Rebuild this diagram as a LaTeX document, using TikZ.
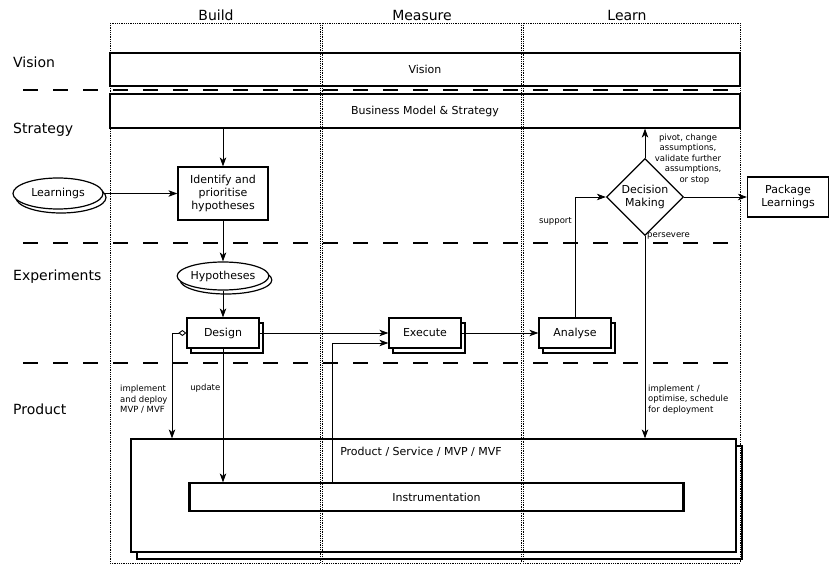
\documentclass[tikz,border=0pt]{standalone}
\usepackage{fontspec}
\setmainfont{DejaVu Sans}
\usetikzlibrary{arrows.meta,shadows,shapes.geometric}
\begin{document}
\begin{tikzpicture}[x=1pt,y=-1pt,
  box/.style={draw,line width=1.2pt,fill=white,font=\fontsize{11}{13}\selectfont,align=center,inner sep=0pt},
  wide/.style={draw,line width=1.2pt,font=\fontsize{11}{13}\selectfont,inner sep=0pt},
  stackbox/.style={box,copy shadow={shadow xshift=4pt,shadow yshift=-5pt}},
  stackell/.style={box,ellipse,copy shadow={shadow xshift=3pt,shadow yshift=-4pt}},
  arr/.style={-{Stealth[length=9pt,width=6.5pt,inset=2.5pt]},line width=0.9pt},
  lane/.style={line width=0.6pt,dash pattern=on 0.8pt off 1pt},
  sep/.style={line width=2.5pt,dash pattern=on 15pt off 15pt},
  rowlbl/.style={font=\fontsize{14}{16}\selectfont,anchor=west,inner sep=0pt},
  coltitle/.style={font=\fontsize{14}{16}\selectfont,inner sep=0pt},
  small/.style={font=\fontsize{8.5}{10.5}\selectfont,inner sep=0pt}
]
\useasboundingbox (0,0) rectangle (835,564);

% column titles and row labels
\node[coltitle] (tbuild) at (216,15) {Build};
\node[coltitle] (tmeasure) at (422,15) {Measure};
\node[coltitle] (tlearn) at (627,15) {Learn};
\node[rowlbl] (rvision) at (13,62) {Vision};
\node[rowlbl] (rstrategy) at (13,130) {Strategy};
\node[rowlbl] (rexp) at (13,277) {Experiments};
\node[rowlbl] (rprod) at (13,409) {Product};

% separators
\draw[sep] (23,90) -- (740,90);
\draw[sep] (23,243) -- (740,243);
\draw[sep] (23,363) -- (740,363);

% product and instrumentation
\node[box,minimum width=605pt,minimum height=113pt,copy shadow={shadow xshift=6pt,shadow yshift=-7pt}] (product) at (433.5,495.5) {};
\node[font=\fontsize{11}{13}\selectfont,inner sep=0pt] (prodlbl) at (421,452) {Product / Service / MVP / MVF};
\node[wide,minimum width=495pt,minimum height=28pt] (instr) at (436.5,497) {Instrumentation};
\draw[line width=2.5pt] ([xshift=1pt]instr.north west) -- ([xshift=1pt]instr.south west);
\draw[line width=2.5pt] ([xshift=-1pt]instr.north east) -- ([xshift=-1pt]instr.south east);

% vision and strategy
\node[wide,minimum width=630pt,minimum height=33pt] (vision) at (425,69.5) {Vision};
\node[wide,minimum width=630pt,minimum height=34pt] (bm) at (425,111) {Business Model \& Strategy};

% nodes
\node[box,minimum width=90pt,minimum height=53pt] (identify) at (223,193.5) {Identify and\\prioritise\\hypotheses};
\node[stackell,minimum width=90pt,minimum height=31pt] (learnings) at (58,193.5) {Learnings};
\node[stackell,minimum width=90pt,minimum height=28pt] (hyp) at (223,276) {Hypotheses};
\node[stackbox,minimum width=72pt,minimum height=30pt] (design) at (223,333) {Design};
\node[stackbox,minimum width=72pt,minimum height=30pt] (execute) at (425,333) {Execute};
\node[stackbox,minimum width=72pt,minimum height=30pt] (analyse) at (575,333) {Analyse};
\node[box,diamond,minimum width=77pt,minimum height=77pt] (decision) at (645,197) {Decision\\Making};
\node[box,minimum width=81pt,minimum height=40pt] (package) at (788,197) {Package\\Learnings};

\coordinate (xa) at (332,0);
\coordinate (xb) at (172,0);

% connectors
\draw[arr] (identify |- bm.south) -- (identify.north);
\draw[arr] (learnings.east) -- (identify.west);
\draw[arr] (identify.south) -- (hyp.north);
\draw[arr] (hyp.south) -- (design.north);
\draw[arr] (design.east) -- (execute.west);
\draw[arr] (instr.north -| xa) |- ([yshift=-10pt]execute.west);
\draw[arr] (execute.east) -- (analyse.west);
\draw[arr] (analyse.north) |- (decision.west);
\draw[arr] (decision.north) -- (decision.north |- bm.south);
\draw[arr] (decision.east) -- (package.west);
\draw[arr] (decision.south) -- (decision.south |- product.north);
\draw[{Diamond[open,length=8pt,width=6pt]}-{Stealth[length=9pt,width=6.5pt,inset=2.5pt]},line width=0.9pt] (design.west) -| (xb |- product.north);
\draw[arr] (design.south) -- (design.south |- instr.north);

% labels
\node[small,anchor=east] (lsupport) at (572,221) {support};
\node[small,align=center] (lpivot) at (688,159) {pivot, change\\assumptions,\\validate further\\\hspace*{1.2em}assumptions,\\\hspace*{1.5em}or stop};
\node[small,anchor=west] (lpers) at (647,236) {persevere};
\node[small,anchor=west,align=left] (limpl2) at (648,399.5) {implement /\\optimise, schedule\\for deployment};
\node[small,anchor=west,align=left] (limpl1) at (120,399.5) {implement\\and deploy\\MVP / MVF};
\node[small,anchor=east] (lupdate) at (220.5,388) {update};

% lanes
\draw[lane] (110,23) rectangle (320,563);
\draw[lane] (322,23) rectangle (521,563);
\draw[lane] (523,23) rectangle (740,563);
\end{tikzpicture}
\end{document}
